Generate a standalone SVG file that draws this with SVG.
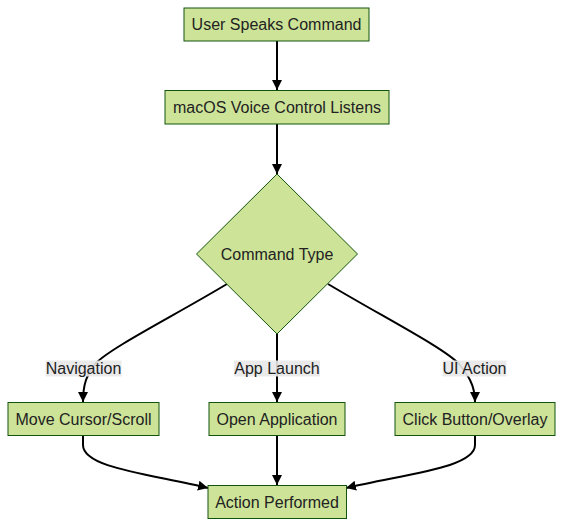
<svg xmlns="http://www.w3.org/2000/svg" width="563" height="527" viewBox="0 0 563 527">
<style>
.node{fill:#cde498;stroke:#13540c;stroke-width:1}
.lbl{font-family:"Liberation Sans",Arial,sans-serif;font-size:16px;fill:#222;text-anchor:middle;dominant-baseline:central}
.edge{fill:none;stroke:#000;stroke-width:2}
.lbg{fill:#e8e8e8;opacity:0.9}
</style>
<defs>
<marker id="arrow" viewBox="0 0 10 10" refX="10" refY="5" markerWidth="10" markerHeight="10" markerUnits="userSpaceOnUse" orient="auto">
<path d="M0,0 L10,5 L0,10 z" fill="#000"/>
</marker>
</defs>
<rect width="563" height="527" fill="#fff"/>
<g id="connectors">
<path class="edge" d="M277,41 L277,90" marker-end="url(#arrow)"/>
<path class="edge" d="M277,124 L277,174" marker-end="url(#arrow)"/>
<path class="edge" d="M227,284 C170,318 110,348 95,364 C87,374 83,384 83,402" marker-end="url(#arrow)"/>
<path class="edge" d="M277,334 L277,402" marker-end="url(#arrow)"/>
<path class="edge" d="M328,284 C385,318 444,348 459,364 C467,374 475,384 475,402" marker-end="url(#arrow)"/>
<path class="edge" d="M83,435 L83,445 C83,468 150,474 208,488" marker-end="url(#arrow)"/>
<path class="edge" d="M277,435 L277,485" marker-end="url(#arrow)"/>
<path class="edge" d="M475,435 L475,445 C475,468 404,474 346,488" marker-end="url(#arrow)"/>
<g id="edge-labels">
<rect class="lbg" x="45.5" y="360.5" width="76" height="16"/>
<text class="lbl" x="83.5" y="368.5">Navigation</text>
<rect class="lbg" x="234" y="360.5" width="86" height="16"/>
<text class="lbl" x="277" y="368.5">App Launch</text>
<rect class="lbg" x="442.5" y="360.5" width="64" height="16"/>
<text class="lbl" x="474.5" y="368.5">UI Action</text>
</g>
</g>
<g id="user-speaks">
<rect class="node" x="184" y="8" width="185" height="33"/>
<text class="lbl" x="276.5" y="24.5">User Speaks Command</text>
</g>
<g id="voice-control">
<rect class="node" x="165" y="90.5" width="224" height="33.5"/>
<text class="lbl" x="277" y="107">macOS Voice Control Listens</text>
</g>
<g id="command-type">
<polygon class="node" points="277,174 357.5,254 277,334 196.5,254"/>
<text class="lbl" x="277" y="254">Command Type</text>
</g>
<g id="move-cursor">
<rect class="node" x="8" y="402.5" width="151" height="33"/>
<text class="lbl" x="83.5" y="419">Move Cursor/Scroll</text>
</g>
<g id="open-app">
<rect class="node" x="209" y="402.5" width="136" height="33"/>
<text class="lbl" x="277" y="419">Open Application</text>
</g>
<g id="click-button">
<rect class="node" x="395" y="402.5" width="160" height="33"/>
<text class="lbl" x="475" y="419">Click Button/Overlay</text>
</g>
<g id="action-performed">
<rect class="node" x="208" y="485.5" width="138.5" height="33"/>
<text class="lbl" x="277" y="502">Action Performed</text>
</g>
</svg>
